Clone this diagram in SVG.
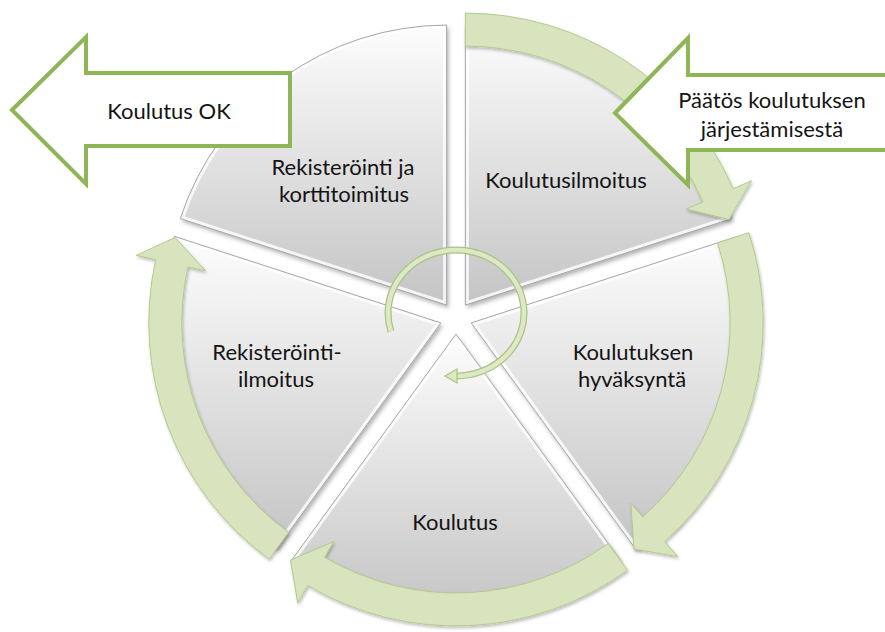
<svg xmlns="http://www.w3.org/2000/svg" width="885" height="632" viewBox="0 0 885 632">
<defs>
<style>
.seg{fill:url(#g);filter:url(#sh)}
.rim{fill:none;stroke:#ffffff;stroke-width:7;opacity:.8}
.edge{fill:none;stroke:#a6a6a6;stroke-width:1}
.lbl{font-family:Lato,"Liberation Sans",sans-serif;font-size:22px;fill:#141414;text-anchor:middle}
.band{fill:#d7e4bd;stroke:#b2ca8b;stroke-width:1;filter:url(#sh2)}
.big{fill:#ffffff;stroke:#8fb656;stroke-width:4;stroke-linejoin:miter}
.ring1{fill:none;stroke:#a9c47f;stroke-width:7}
.ring2{fill:none;stroke:#dde8c6;stroke-width:4.5}
</style>
<linearGradient id="g" x1="0" y1="0" x2="0" y2="1">
<stop offset="0" stop-color="#fdfdfd"/>
<stop offset="1" stop-color="#c4c4c4"/>
</linearGradient>
<filter id="sh" x="-10%" y="-10%" width="125%" height="125%">
<feDropShadow dx="2" dy="3" stdDeviation="2" flood-color="#000" flood-opacity="0.3"/>
</filter>
<filter id="sh2" x="-10%" y="-10%" width="125%" height="125%">
<feDropShadow dx="1" dy="2" stdDeviation="1.5" flood-color="#000" flood-opacity="0.25"/>
</filter>
<path id="pA" d="M446.6,305.1 L180.3,218.6 A280,280 0 0 1 446.6,25.1 Z"/>
<path id="pB" d="M465.4,305.1 L465.4,25.1 A280,280 0 0 1 731.7,218.6 Z"/>
<path id="pC" d="M471.2,322.9 L737.5,236.4 A280,280 0 0 1 635.8,549.4 Z"/>
<path id="pD" d="M456,334 L620.6,560.5 A280,280 0 0 1 291.4,560.5 Z"/>
<path id="pE" d="M440.8,322.9 L276.2,549.4 A280,280 0 0 1 174.5,236.4 Z"/>
<clipPath id="cA"><use href="#pA"/></clipPath>
<clipPath id="cB"><use href="#pB"/></clipPath>
<clipPath id="cC"><use href="#pC"/></clipPath>
<clipPath id="cD"><use href="#pD"/></clipPath>
<clipPath id="cE"><use href="#pE"/></clipPath>
</defs>
<rect width="885" height="632" fill="#ffffff"/>

<g id="node-rekisterointi-ja-korttitoimitus">
<use href="#pA" class="seg"/>
<use href="#pA" class="rim" clip-path="url(#cA)"/>
<use href="#pA" class="edge"/>
<text class="lbl" x="343" y="175">Rekisteröinti ja</text>
<text class="lbl" x="344" y="202">korttitoimitus</text>
</g>
<g id="node-koulutusilmoitus">
<use href="#pB" class="seg"/>
<use href="#pB" class="rim" clip-path="url(#cB)"/>
<use href="#pB" class="edge"/>
<text class="lbl" x="566" y="188">Koulutusilmoitus</text>
</g>
<g id="node-koulutuksen-hyvaksynta">
<use href="#pC" class="seg"/>
<use href="#pC" class="rim" clip-path="url(#cC)"/>
<use href="#pC" class="edge"/>
<text class="lbl" x="633" y="360">Koulutuksen</text>
<text class="lbl" x="632" y="387">hyväksyntä</text>
</g>
<g id="node-koulutus">
<use href="#pD" class="seg"/>
<use href="#pD" class="rim" clip-path="url(#cD)"/>
<use href="#pD" class="edge"/>
<text class="lbl" x="455" y="530">Koulutus</text>
</g>
<g id="node-rekisterointi-ilmoitus">
<use href="#pE" class="seg"/>
<use href="#pE" class="rim" clip-path="url(#cE)"/>
<use href="#pE" class="edge"/>
<text class="lbl" x="277" y="360">Rekisteröinti-</text>
<text class="lbl" x="276" y="387">ilmoitus</text>
</g>

<g id="connectors">
<path class="band" d="M465.4,13.1 A292,292 0 0 1 733.2,188.7 L751.5,180.7 L728.8,219.5 L686.4,209 L702.9,201.8 A259,259 0 0 0 465.4,46.1 Z"/>
<path class="band" d="M748.9,232.7 A292,292 0 0 1 664.7,541.6 L677.9,556.6 L634,549 L630.9,503.4 L642.8,516.9 A259,259 0 0 0 717.5,242.9 Z"/>
<path class="band" d="M627.6,570.2 A292,292 0 0 1 307.8,585.6 L297.7,602.8 L290.5,560 L333.7,541.6 L324.6,557.2 A259,259 0 0 0 608.2,543.5 Z"/>
<path class="band" d="M269.2,559.1 A292,292 0 0 1 155.7,259.7 L136.2,255.4 L175,237.5 L205.5,270.7 L187.9,266.9 A259,259 0 0 0 288.6,532.4 Z"/>
<g id="inner-cycle">
<path class="ring1" d="M391,331.4 A68,63 0 1 1 456,376"/>
<path class="ring2" d="M391,331.4 A68,63 0 1 1 456,376"/>
<polygon points="457,369 457,383 445,376" fill="#dde8c6" stroke="#a9c47f" stroke-width="1.2"/>
</g>
</g>

<g id="node-koulutus-ok">
<polygon class="big" points="12,110 86,37 86,73 290,73 290,146 86,146 86,184"/>
<text class="lbl" x="169" y="119">Koulutus OK</text>
</g>
<g id="node-paatos">
<polygon class="big" points="615,113 688,38 688,75 892,75 892,150 688,150 688,185"/>
<text class="lbl" x="772" y="108">Päätös koulutuksen</text>
<text class="lbl" x="772" y="137">järjestämisestä</text>
</g>
</svg>
